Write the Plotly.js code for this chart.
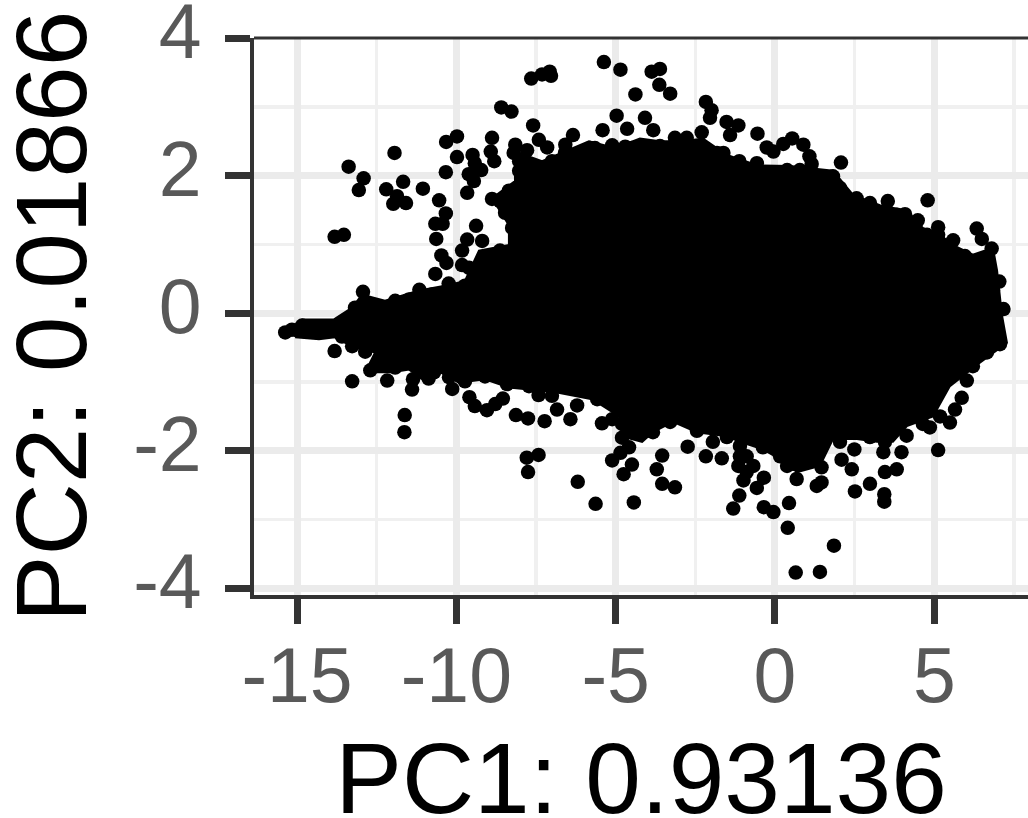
<!DOCTYPE html>
<html>
<head>
<meta charset="utf-8">
<script src="https://cdn.plot.ly/plotly-3.0.1.min.js"></script>
<style>html,body{margin:0;padding:0;background:#fff;overflow:hidden;width:1028px;height:818px}</style>
</head>
<body>
<div id="chart" style="width:1033px;height:834px;margin-left:-5px"></div>
<script>
// Outline of the solid, overplotted mass of points (PC1, PC2)
const massX = [-15.38,-14.84,-13.84,-13.27,-12.96,-12.24,-11.17,-10.23,-9.73,-9.29,-8.35,-8.35,-8.88,-8.16,-8.16,-7.31,-6.59,-5.84,-5.02,-4.24,-3.61,-2.89,-2.26,-1.51,-0.56,0.47,1.82,2.45,3.29,4.14,4.64,5.18,5.59,6.21,6.84,6.97,7.12,7.28,6.43,5.49,4.96,4.14,3.70,3.20,2.57,1.82,1.41,0.69,0.16,-0.38,-1.10,-1.51,-2.45,-3.20,-3.83,-4.17,-4.80,-4.89,-5.74,-7.00,-8.35,-9.10,-9.92,-10.54,-10.98,-11.48,-12.02,-12.86,-12.55,-13.27,-13.81,-14.31,-15.06];
const massY = [-0.28,-0.09,-0.09,0.08,0.27,0.18,0.33,0.41,0.47,0.91,0.99,1.28,1.67,1.92,2.35,2.21,2.35,2.50,2.40,2.54,2.50,2.50,2.54,2.30,2.15,2.14,2.07,1.72,1.57,1.49,1.24,1.14,0.99,0.85,0.95,0.62,-0.02,-0.43,-0.72,-1.06,-1.50,-1.64,-1.87,-1.87,-1.83,-1.83,-2.22,-2.31,-2.12,-1.98,-1.87,-1.79,-1.73,-1.58,-1.73,-1.87,-1.79,-1.50,-1.25,-1.14,-1.08,-0.96,-1.01,-0.85,-0.99,-0.82,-0.86,-0.86,-0.57,-0.48,-0.35,-0.38,-0.35];

// Individually readable points around the mass (PC1)
const pointsX = [-13.82,-13.53,-13.38,-12.91,-13.06,-11.94,-12.20,-11.67,-11.86,-11.98,-11.58,-11.05,-10.54,-10.33,-10.66,-10.43,-10.63,-10.47,-10.31,-10.66,-10.24,-11.16,-12.93,-10.32,-9.98,-9.98,-10.33,-9.61,-9.49,-9.42,-9.22,-9.45,-9.66,-8.88,-8.92,-8.81,-8.88,-8.59,-8.27,-7.59,-7.65,-7.31,-7.07,-7.03,-5.37,-4.85,-4.38,-4.97,-5.41,-4.64,-6.34,-7.41,-7.15,-6.58,-8.15,-7.78,-8.20,-5.80,-4.70,
-3.87,-3.61,-3.63,-3.29,-2.17,-1.99,-2.04,-4.08,-3.82,-3.14,-2.77,-2.30,-1.52,-1.15,-1.41,-0.55,-0.26,-0.05,0.26,0.54,0.89,1.08,1.15,2.07,-1.12,-0.57,-1.62,3.54,4.79,4.08,4.48,5.12,5.12,5.59,6.33,6.49,6.80,7.04,7.17,2.56,5.96,
-15.37,-14.84,-14.32,-13.85,-13.82,-13.27,-12.70,-12.17,-11.39,-11.36,-11.62,-11.63,-10.87,-10.13,-9.59,-9.42,-9.04,-8.78,-8.54,-8.13,-7.75,-7.23,-7.42,-7.00,-6.84,-6.42,-6.21,-7.79,-7.42,-7.75,-6.19,-5.63,-4.43,-4.75,-4.49,-5.11,-4.85,-5.43,-4.80,-5.58,
-2.74,-3.54,-3.71,-3.54,-3.14,-2.17,-1.67,-1.10,-1.15,-0.89,-0.68,-0.99,-0.57,-0.35,-1.12,-1.31,-0.35,-0.05,0.44,0.40,1.85,0.65,1.41,0.68,0.57,1.31,1.46,1.46,2.09,2.41,2.51,2.98,3.45,3.82,3.43,3.43,3.40,3.97,4.13,2.49,5.12,4.86,5.49,5.86,6.02,5.65,7.06];
// Individually readable points around the mass (PC2)
const pointsY = [1.11,1.14,2.13,1.96,1.79,2.33,1.80,1.91,1.70,1.59,1.60,1.81,1.64,1.45,1.30,1.30,1.08,0.84,0.73,0.57,0.43,0.34,0.31,2.49,2.57,2.27,2.05,2.02,2.30,2.18,2.08,1.92,1.75,2.55,2.35,2.21,1.66,2.99,2.93,2.73,3.41,3.47,3.51,3.45,3.65,3.54,3.18,2.87,2.66,2.68,2.59,2.52,2.41,2.45,2.45,2.37,2.33,2.40,2.42,
3.51,3.55,3.32,3.19,3.07,2.95,2.84,2.84,2.66,2.55,2.55,2.63,2.78,2.73,2.59,2.61,2.41,2.35,2.46,2.54,2.45,2.28,2.17,2.19,2.21,2.18,2.33,1.63,1.64,1.44,1.35,1.25,1.14,1.06,1.23,1.08,0.94,0.46,0.06,1.67,0.83,
-0.28,-0.18,-0.24,-0.19,-0.55,-0.99,-0.83,-0.98,-1.11,-0.96,-1.48,-1.73,-0.95,-1.10,-1.22,-1.35,-1.41,-1.32,-1.24,-1.48,-1.53,-1.57,-1.19,-1.20,-1.40,-1.54,-1.34,-2.10,-2.06,-2.31,-2.45,-2.77,-2.75,-2.34,-2.20,-2.14,-2.03,-1.60,-1.81,-1.25,
-1.94,-2.07,-2.27,-2.48,-2.53,-2.08,-2.11,-1.93,-2.22,-2.31,-2.22,-2.43,-2.54,-2.39,-2.65,-2.84,-2.82,-2.89,-2.76,-3.12,-3.38,-3.77,-3.76,-2.41,-2.19,-2.51,-2.46,-2.24,-2.13,-2.27,-2.59,-2.48,-2.31,-2.27,-2.63,-2.74,-2.02,-2.02,-1.78,-1.98,-1.99,-1.66,-1.59,-1.23,-0.98,-1.40,-0.45];

// Points forming the scalloped rim of the mass
const rimX = [-13.18,-12.74,-12.43,-11.92,-11.48,-10.76,-10.23,-9.73,-9.29,-9.60,-9.82,-9.82,-9.66,-9.38,-9.19,-9.10,-8.63,-8.16,-8.25,-8.47,-8.63,-8.35,-8.03,-7.94,-8.03,-7.00,-6.37,-6.59,-5.96,-5.65,-5.11,-4.49,
-3.61,-2.89,-1.82,-1.32,-0.06,0.38,0.78,1.51,1.82,2.04,2.98,3.83,4.77,6.02,6.65,6.75,6.84,
-13.27,-12.86,-12.43,-11.92,-11.61,-11.08,-10.70,-10.23,-9.73,-9.10,-8.41,-7.72,-5.11,-4.80,-4.58,
-3.83,-3.29,-2.45,-1.95,-1.51,-1.10,-0.89,-0.38,0.16,0.38,0.78,1.26,1.51,2.04,2.98,3.45,4.64,5.18,6.21,6.65,-15.16,-14.59,-13.59];
const rimY = [0.08,0.12,0.08,0.18,0.20,0.27,0.40,0.40,0.52,0.66,0.70,0.91,1.07,1.27,1.05,0.81,0.91,0.98,1.24,1.46,1.63,1.78,2.07,1.92,2.21,2.21,2.21,2.33,2.35,2.40,2.44,2.40,
2.43,2.44,2.33,2.15,2.01,2.08,2.08,1.99,1.99,1.82,1.60,1.43,1.14,0.78,0.81,0.62,0.33,
-0.48,-0.56,-0.72,-0.79,-0.67,-0.79,-0.86,-0.93,-0.99,-0.92,-1.03,-1.06,-1.54,-1.61,-1.95,
-1.73,-1.58,-1.71,-1.87,-1.80,-2.08,-2.08,-1.95,-2.08,-2.22,-2.15,-2.08,-1.79,-1.87,-1.80,-1.87,-1.61,-1.50,-0.77,-0.57,-0.24,-0.27,-0.34];

// Axis ticks
const xTickVals = [-15,-10,-5,0,5];
const xTickText = ["-15","-10","-5","0","5"];
const xMinorVals = [-12.5,-7.5,-2.5,2.5,7.5];
const yTickVals = [-4,-2,0,2,4];
const yTickText = ["-4","-2","0","2","4"];
const yMinorVals = [-3,-1,1,3];
const xTitle = "PC1: 0.93136";
const yTitle = "PC2: 0.01866";

const fontFamily = '"Liberation Sans", Arial, sans-serif';
const axisCommon = {
  tickmode: 'array', ticks: 'outside', ticklen: 25, tickwidth: 7, tickcolor: '#333333',
  showline: true, linecolor: '#333333', linewidth: 4,
  showgrid: true, gridcolor: '#ebebeb', gridwidth: 7, zeroline: false,
  ticklabeloverflow: 'allow',
  tickfont: {family: fontFamily, size: 77, color: '#595959'}
};
const minorCommon = {tickmode: 'array', showgrid: true, gridcolor: '#f0f0f0', gridwidth: 3.5, ticks: ''};
const markerStyle = {color: '#000000', size: 14.5, line: {width: 0}};

Plotly.newPlot('chart', [
  {type: 'scatter', mode: 'lines', x: massX, y: massY, fill: 'toself', fillcolor: '#000000',
   line: {color: '#000000', width: 2}, hoverinfo: 'skip', showlegend: false},
  {type: 'scatter', mode: 'markers', x: rimX, y: rimY, marker: markerStyle, showlegend: false},
  {type: 'scatter', mode: 'markers', x: pointsX, y: pointsY, marker: markerStyle, showlegend: false}
], {
  width: 1033, height: 834, paper_bgcolor: '#ffffff', plot_bgcolor: '#ffffff',
  margin: {l: 259, r: 0, t: 38, b: 239, pad: 0},
  showlegend: false,
  shapes: [{type: 'line', xref: 'paper', yref: 'paper', x0: 0, x1: 1, y0: 1, y1: 1,
            line: {color: '#333333', width: 3}}],
  xaxis: Object.assign({}, axisCommon, {
    range: [-16.35, 7.94], tickvals: xTickVals, ticktext: xTickText,
    ticklabelstandoff: -14,
    minor: Object.assign({}, minorCommon, {tickvals: xMinorVals}),
    title: {text: xTitle, font: {family: fontFamily, size: 100, color: '#000000'}, standoff: 40},
    automargin: 'bottom+height'
  }),
  yaxis: Object.assign({}, axisCommon, {
    range: [-4.096, 4.0], tickvals: yTickVals, ticktext: yTickText,
    ticklabelstandoff: 8, ticklabelshift: -7,
    minor: Object.assign({}, minorCommon, {tickvals: yMinorVals}),
    title: {text: yTitle, font: {family: fontFamily, size: 100, color: '#000000'}, standoff: 14},
    automargin: 'left+width'
  })
}, {displayModeBar: false, staticPlot: true});
</script>
</body>
</html>
